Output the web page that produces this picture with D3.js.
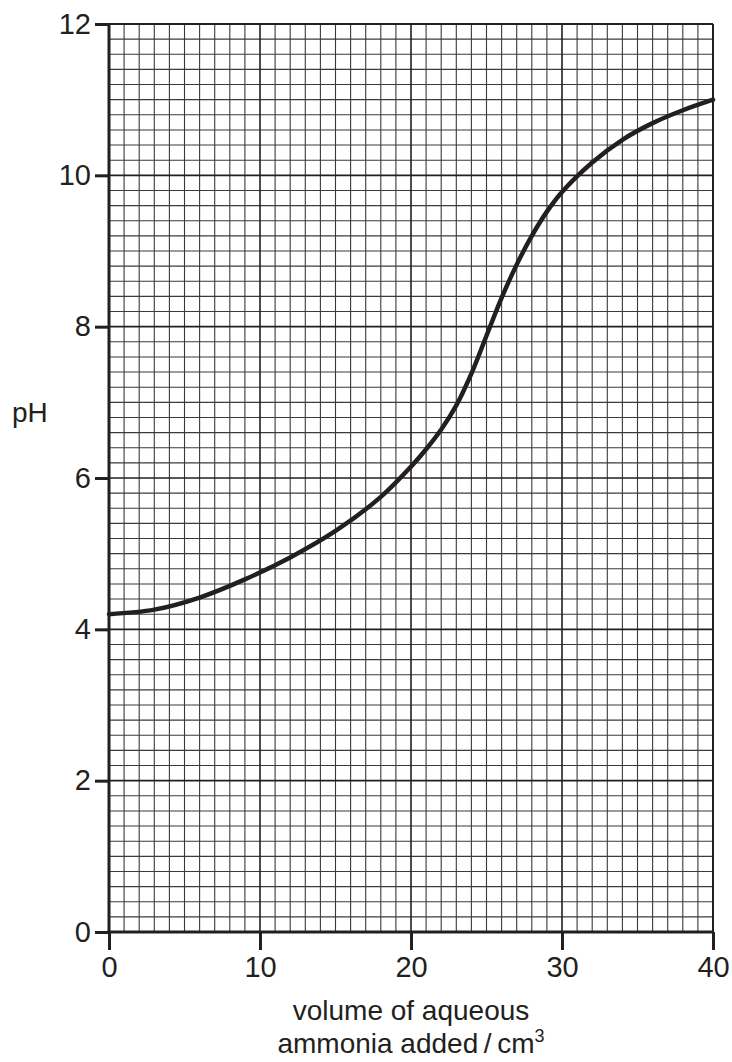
<!DOCTYPE html>
<html>
<head>
<meta charset="utf-8">
<script src="https://cdn.jsdelivr.net/npm/d3@7"></script>
<style>
  body { margin: 0; background: #fff; }
  text { font-family: "Liberation Sans", Arial, sans-serif; fill: #231f20; }
</style>
</head>
<body>
<div class="chart"></div>
<script>
// titration curve
var volume = [0, 3, 6, 9, 12, 15, 18, 20, 21, 22, 23, 24, 25, 26, 27, 28, 29, 30, 32, 34, 36, 38, 40];
var ph     = [4.2, 4.26, 4.42, 4.66, 4.95, 5.3, 5.75, 6.15, 6.38, 6.64, 6.96, 7.38, 7.88, 8.38, 8.82, 9.2, 9.52, 9.78, 10.17, 10.47, 10.69, 10.86, 11.0];
var xTicks = [0, 10, 20, 30, 40];
var yTicks = [0, 2, 4, 6, 8, 10, 12];

var width = 732, height = 1062;
var pLeft = 109, pRight = 713, pTop = 24, pBottom = 932;

var x = d3.scaleLinear().domain([0, 40]).range([pLeft, pRight]);
var y = d3.scaleLinear().domain([0, 12]).range([pBottom, pTop]);

var svg = d3.select('.chart')
    .append("svg")
    .attr("width", width)
    .attr("height", height);

// graph paper: minor squares
var g = svg.append("g").attr("class", "grid");
g.selectAll("line.vx")
    .data(d3.range(1, 40).filter(function (d) { return d % 10 != 0; }))
    .enter().append("line")
    .attr("x1", d => x(d)).attr("x2", d => x(d))
    .attr("y1", pTop).attr("y2", pBottom)
    .attr("stroke", "#3a3a3a").attr("stroke-width", 1.1);
g.selectAll("line.hy")
    .data(d3.range(1, 60).filter(function (d) { return d % 10 != 0; }))
    .enter().append("line")
    .attr("y1", d => y(d / 5)).attr("y2", d => y(d / 5))
    .attr("x1", pLeft).attr("x2", pRight)
    .attr("stroke", "#3a3a3a").attr("stroke-width", 1.1);

// major lines
g.selectAll("line.mx")
    .data(xTicks.slice(1, -1))
    .enter().append("line")
    .attr("x1", d => x(d)).attr("x2", d => x(d))
    .attr("y1", pTop).attr("y2", pBottom)
    .attr("stroke", "#231f20").attr("stroke-width", 1.6);
g.selectAll("line.my")
    .data(yTicks.slice(1, -1))
    .enter().append("line")
    .attr("y1", d => y(d)).attr("y2", d => y(d))
    .attr("x1", pLeft).attr("x2", pRight)
    .attr("stroke", "#231f20").attr("stroke-width", 1.6);

// border
svg.append("line").attr("x1", pLeft).attr("x2", pRight).attr("y1", pTop).attr("y2", pTop)
    .attr("stroke", "#231f20").attr("stroke-width", 2);
svg.append("line").attr("x1", pRight).attr("x2", pRight).attr("y1", pTop).attr("y2", pBottom)
    .attr("stroke", "#231f20").attr("stroke-width", 2);

// axes
var xAxis = d3.axisBottom(x).tickValues(xTicks).tickSize(18).tickPadding(6);
var yAxis = d3.axisLeft(y).tickValues(yTicks).tickSize(14).tickPadding(4);

var gx = svg.append("g").attr("transform", "translate(0," + pBottom + ")").call(xAxis);
var gy = svg.append("g").attr("transform", "translate(" + pLeft + ",0)").call(yAxis);

[gx, gy].forEach(function (a) {
    a.select(".domain").remove();
    a.selectAll(".tick line").attr("stroke", "#231f20").attr("stroke-width", 3);
    a.selectAll(".tick text")
        .attr("fill", "#231f20")
        .style("font-family", '"Liberation Sans", Arial, sans-serif')
        .style("font-size", "29px");
});

svg.append("line").attr("x1", pLeft).attr("x2", pLeft).attr("y1", pTop - 1).attr("y2", pBottom + 1.5)
    .attr("stroke", "#231f20").attr("stroke-width", 3);
svg.append("line").attr("x1", pLeft - 1.5).attr("x2", pRight + 1).attr("y1", pBottom).attr("y2", pBottom)
    .attr("stroke", "#231f20").attr("stroke-width", 3);

// the curve
var line = d3.line()
    .x((d, i) => x(volume[i]))
    .y(d => y(d))
    .curve(d3.curveCatmullRom.alpha(0.5));

svg.append("path")
    .datum(ph)
    .attr("d", line)
    .attr("fill", "none")
    .attr("stroke", "#231f20")
    .attr("stroke-width", 4.5)
    .attr("stroke-linecap", "round");

// labels
svg.append("text").attr("x", 12).attr("y", 422)
    .style("font-size", "28px").text("pH");

var lab = svg.append("text").attr("text-anchor", "middle").style("font-size", "28px");
lab.append("tspan").attr("x", 411).attr("y", 1020).text("volume of aqueous");
lab.append("tspan").attr("x", 411).attr("y", 1053).text("ammonia added\u2009/\u2009cm");
lab.append("tspan").attr("dy", -11).style("font-size", "18px").text("3");
</script>
</body>
</html>
